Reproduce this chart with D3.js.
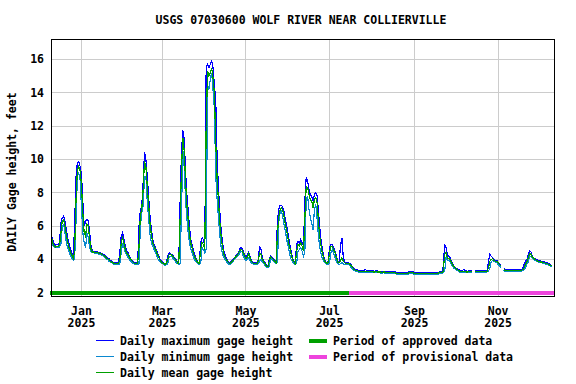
<!DOCTYPE html>
<html>
<head>
<meta charset="utf-8">
<script src="https://cdn.jsdelivr.net/npm/d3@7"></script>
<style>
  body { margin: 0; background: #ffffff; }
  svg text { font-family: "DejaVu Sans Mono", monospace; font-weight: bold; font-size: 11.5px; fill: #000; }
</style>
</head>
<body>
<div id="chart"></div>
<script>
// Gage height data, one value per day starting 2024-12-10 (null = missing day)
//---------------------------------------------------------------------------
var startDate = "2024-12-10";
var domainStart = "2024-12-10";
var domainEnd = "2025-12-12";
var provisionalStart = "2025-07-16";

var dailyMax = [
  5.5, 5.2, 4.95, 4.85, 4.9, 4.9, 5.0, 6.2, 6.5, 6.6,
  6.3, 5.8, 5.3, 4.9, 4.6, 4.4, 4.2, 6.0, 8.9, 9.8,
  9.85, 9.6, 9.1, 7.5, 6.0, 6.3, 6.4, 6.3, 5.6, 4.8,
  4.5, 4.5, 4.45, 4.45, 4.45, 4.4, 4.4, 4.35, 4.3, 4.25,
  4.15, 4.1, 4.05, 3.95, 3.9, 3.85, 3.8, 3.8, 3.8, 3.8,
  4.4, 5.4, 5.6, 5.2, 4.8, 4.5, 4.4, 4.2, 4.05, 3.95,
  3.85, 3.8, 3.8, 3.8, 6.0, 7.0, 7.2, 8.6, 10.45, 10.0,
  9.0, 7.8, 6.6, 5.8, 5.2, 4.9, 4.7, 4.5, 4.3, 4.05,
  3.95, 3.85, 3.8, 3.75, 3.8, 4.2, 4.4, 4.35, 4.3, 4.2,
  4.1, 4.0, 3.85, 3.8, 7.5, 10.5, 11.75, 11.2, 9.2, 7.8,
  6.8, 5.8, 5.1, 4.8, 4.45, 4.2, 3.95, 3.85, 3.8, 5.0,
  5.3, 5.2, 4.8, 15.5, 15.7, 15.5, 15.7, 15.9, 15.5, 14.5,
  13.5, 10.0, 8.2, 6.8, 5.7, 5.0, 4.5, 4.2, 4.0, 3.9,
  3.8, 3.85, 3.95, 4.05, 4.15, 4.25, 4.35, 4.5, 4.7, 4.7,
  4.5, 4.3, 4.1, 4.3, 4.45, 4.2, 3.95, 3.85, 3.8, 3.8,
  3.8, 4.0, 4.8, 4.6, 4.1, 3.9, 3.8, 3.65, 3.6, 4.0,
  4.2, 4.15, 4.05, 3.95, 3.85, 6.4, 7.0, 7.25, 7.25, 7.1,
  6.8, 6.3, 5.9, 5.4, 4.9, 4.5, 4.1, 3.9, 3.8, 4.9,
  5.1, 5.0, 5.2, 5.0, 4.8, 7.5, 8.95, 8.7, 8.2, 7.9,
  7.8, 7.5, 7.9, 8.0, 7.8, 6.8, 5.8, 5.0, 4.5, 4.1,
  3.9, 3.8, 3.9, 4.7, 4.9, 4.9, 4.7, 4.5, 4.2, 3.9,
  3.85, 4.8, 5.3, 4.2, 3.85, 3.8, 3.8, 3.8, 3.75, 3.65,
  3.55, 3.45, 3.4, 3.4, 3.35, 3.35, 3.35, 3.35, 3.3, 3.4,
  3.35, 3.3, 3.35, 3.35, 3.35, 3.3, 3.3, 3.35, 3.3, 3.3,
  3.3, 3.25, 3.3, 3.3, 3.25, 3.25, 3.25, 3.25, 3.25, 3.25,
  3.25, 3.25, 3.2, 3.2, 3.2, 3.2, 3.2, 3.2, 3.2, 3.2,
  3.2, 3.3, 3.25, 3.25, 3.25, 3.2, 3.2, 3.2, 3.2, 3.2,
  3.2, 3.2, 3.2, 3.2, 3.2, 3.2, 3.2, 3.2, 3.2, 3.2,
  3.2, 3.2, 3.2, 3.25, 3.25, 3.25, 3.6, 4.9, 4.7, 4.3,
  4.2, 4.1, 3.9, 3.7, 3.6, 3.5, 3.45, 3.4, 3.35, 3.35,
  3.35, 3.4, 3.35, 3.3, 3.3, 3.35, 3.35, 3.35, null, 3.35,
  3.35, 3.35, 3.35, 3.35, 3.35, 3.35, 3.35, 3.35, 3.35, 3.9,
  4.3, 4.2, 4.1, 4.0, 3.95, 3.95, 3.85, 3.75, 3.65, null,
  3.45, 3.4, 3.4, 3.4, 3.4, 3.4, 3.4, 3.4, 3.4, 3.4,
  3.4, 3.4, 3.4, 3.4, 3.45, 3.7, 3.9, 4.0, 4.3, 4.5,
  4.45, 4.2, 4.1, 4.05, 4.0, 3.95, 3.95, 3.9, 3.9, 3.85,
  3.85, 3.8, 3.8, 3.75, 3.7, 3.65
];

var dailyMin = [
  5.2, 4.85, 4.75, 4.7, 4.75, 4.75, 4.75, 4.9, 6.0, 6.1,
  5.6, 5.0, 4.7, 4.45, 4.25, 4.05, 3.95, 4.0, 6.2, 9.0,
  9.2, 8.8, 7.2, 5.6, 5.0, 4.7, 5.6, 5.3, 4.7, 4.45,
  4.4, 4.4, 4.35, 4.35, 4.35, 4.3, 4.3, 4.25, 4.2, 4.1,
  4.05, 4.0, 3.9, 3.85, 3.8, 3.75, 3.7, 3.7, 3.7, 3.7,
  3.75, 4.4, 5.0, 4.7, 4.4, 4.3, 4.1, 4.0, 3.9, 3.8,
  3.75, 3.7, 3.7, 3.7, 3.75, 6.0, 6.8, 7.2, 9.0, 9.0,
  7.5, 6.5, 5.5, 5.0, 4.8, 4.6, 4.4, 4.2, 4.0, 3.9,
  3.8, 3.75, 3.7, 3.65, 3.7, 3.75, 4.2, 4.2, 4.15, 4.05,
  3.95, 3.8, 3.75, 3.7, 3.75, 7.0, 10.5, 9.5, 7.5, 6.4,
  5.5, 4.9, 4.6, 4.3, 4.1, 3.9, 3.8, 3.75, 3.7, 3.75,
  4.7, 4.6, 4.4, 4.6, 14.5, 14.2, 14.8, 15.2, 14.2, 13.0,
  9.0, 7.6, 6.5, 5.4, 4.7, 4.3, 4.1, 3.95, 3.85, 3.75,
  3.7, 3.75, 3.8, 3.95, 4.05, 4.15, 4.2, 4.3, 4.5, 4.5,
  4.2, 4.05, 3.95, 4.0, 4.1, 3.9, 3.8, 3.75, 3.7, 3.7,
  3.7, 3.75, 3.9, 4.0, 3.85, 3.75, 3.6, 3.55, 3.5, 3.55,
  4.05, 4.0, 3.9, 3.8, 3.75, 3.8, 6.3, 6.8, 6.9, 6.5,
  6.0, 5.6, 5.1, 4.7, 4.3, 4.0, 3.85, 3.75, 3.7, 3.75,
  4.5, 4.6, 4.7, 4.5, 4.2, 4.5, 7.6, 7.8, 7.0, 6.5,
  6.2, 5.8, 7.0, 7.3, 6.4, 5.3, 4.7, 4.3, 4.0, 3.85,
  3.75, 3.7, 3.7, 3.8, 4.4, 4.6, 4.4, 4.1, 3.85, 3.75,
  3.7, 3.75, 3.8, 3.75, 3.7, 3.7, 3.7, 3.7, 3.6, 3.5,
  3.4, 3.35, 3.3, 3.3, 3.25, 3.25, 3.25, 3.25, 3.2, 3.25,
  3.25, 3.2, 3.25, 3.25, 3.25, 3.2, 3.2, 3.25, 3.2, 3.2,
  3.2, 3.15, 3.2, 3.2, 3.15, 3.15, 3.15, 3.15, 3.15, 3.15,
  3.15, 3.15, 3.1, 3.1, 3.1, 3.1, 3.1, 3.1, 3.1, 3.1,
  3.1, 3.15, 3.15, 3.15, 3.15, 3.1, 3.1, 3.1, 3.1, 3.1,
  3.1, 3.1, 3.1, 3.1, 3.1, 3.1, 3.1, 3.1, 3.1, 3.1,
  3.1, 3.1, 3.1, 3.15, 3.15, 3.15, 3.2, 3.3, 4.1, 3.95,
  3.95, 3.85, 3.65, 3.55, 3.45, 3.4, 3.35, 3.3, 3.25, 3.25,
  3.25, 3.25, 3.25, 3.2, 3.2, 3.25, 3.25, 3.25, null, 3.25,
  3.25, 3.25, 3.25, 3.25, 3.25, 3.25, 3.25, 3.25, 3.25, 3.3,
  3.5, 3.85, 3.95, 3.9, 3.85, 3.85, 3.7, 3.6, 3.5, null,
  3.35, 3.3, 3.3, 3.3, 3.3, 3.3, 3.3, 3.3, 3.3, 3.3,
  3.3, 3.3, 3.3, 3.3, 3.35, 3.4, 3.5, 3.75, 3.85, 4.2,
  4.2, 4.05, 4.0, 3.95, 3.9, 3.85, 3.85, 3.8, 3.8, 3.75,
  3.75, 3.7, 3.7, 3.65, 3.6, 3.55
];

var dailyMean = [
  5.4, 5.0, 4.85, 4.75, 4.8, 4.8, 4.85, 5.6, 6.3, 6.4,
  6.0, 5.5, 5.0, 4.7, 4.45, 4.25, 4.05, 4.5, 7.5, 9.3,
  9.6, 9.3, 8.5, 6.8, 5.6, 5.4, 6.1, 6.0, 5.2, 4.6,
  4.45, 4.45, 4.4, 4.4, 4.4, 4.35, 4.35, 4.3, 4.25, 4.2,
  4.1, 4.05, 4.0, 3.9, 3.85, 3.8, 3.75, 3.75, 3.75, 3.75,
  4.0, 5.0, 5.3, 5.0, 4.6, 4.4, 4.3, 4.1, 4.0, 3.9,
  3.8, 3.75, 3.75, 3.75, 4.8, 6.7, 7.0, 8.2, 9.9, 9.6,
  8.4, 7.3, 6.2, 5.5, 5.0, 4.8, 4.6, 4.4, 4.2, 4.0,
  3.9, 3.8, 3.75, 3.7, 3.75, 4.0, 4.3, 4.3, 4.25, 4.15,
  4.05, 3.95, 3.8, 3.75, 6.5, 9.5, 11.3, 10.5, 8.6, 7.2,
  6.3, 5.4, 4.9, 4.6, 4.3, 4.1, 3.9, 3.8, 3.75, 4.6,
  5.0, 4.9, 4.6, 12.0, 15.3, 15.0, 15.2, 15.5, 14.9, 14.0,
  11.0, 8.8, 7.5, 6.2, 5.3, 4.7, 4.3, 4.1, 3.95, 3.85,
  3.75, 3.8, 3.9, 4.0, 4.1, 4.2, 4.3, 4.45, 4.6, 4.6,
  4.4, 4.2, 4.05, 4.15, 4.35, 4.1, 3.9, 3.8, 3.75, 3.75,
  3.75, 3.9, 4.4, 4.3, 4.0, 3.85, 3.75, 3.6, 3.55, 3.9,
  4.15, 4.1, 4.0, 3.9, 3.8, 5.5, 6.6, 7.0, 7.1, 6.9,
  6.5, 6.0, 5.6, 5.1, 4.7, 4.3, 4.0, 3.85, 3.75, 4.5,
  4.9, 4.8, 5.0, 4.8, 4.5, 6.5, 8.4, 8.3, 7.9, 7.6,
  7.5, 7.1, 7.6, 7.7, 7.4, 6.2, 5.3, 4.7, 4.3, 4.0,
  3.85, 3.75, 3.8, 4.4, 4.8, 4.8, 4.6, 4.4, 4.1, 3.85,
  3.8, 3.9, 4.1, 3.9, 3.8, 3.75, 3.75, 3.75, 3.7, 3.6,
  3.5, 3.4, 3.35, 3.35, 3.3, 3.3, 3.3, 3.3, 3.25, 3.3,
  3.3, 3.25, 3.3, 3.3, 3.3, 3.25, 3.25, 3.3, 3.25, 3.25,
  3.25, 3.2, 3.25, 3.25, 3.2, 3.2, 3.2, 3.2, 3.2, 3.2,
  3.2, 3.2, 3.15, 3.15, 3.15, 3.15, 3.15, 3.15, 3.15, 3.15,
  3.15, 3.2, 3.2, 3.2, 3.2, 3.15, 3.15, 3.15, 3.15, 3.15,
  3.15, 3.15, 3.15, 3.15, 3.15, 3.15, 3.15, 3.15, 3.15, 3.15,
  3.15, 3.15, 3.15, 3.2, 3.2, 3.2, 3.3, 4.3, 4.4, 4.1,
  4.05, 4.0, 3.8, 3.65, 3.55, 3.45, 3.4, 3.35, 3.3, 3.3,
  3.3, 3.3, 3.3, 3.25, 3.25, 3.3, 3.3, 3.3, null, 3.3,
  3.3, 3.3, 3.3, 3.3, 3.3, 3.3, 3.3, 3.3, 3.3, 3.5,
  3.9, 4.0, 4.05, 3.95, 3.9, 3.9, 3.8, 3.7, 3.6, null,
  3.4, 3.35, 3.35, 3.35, 3.35, 3.35, 3.35, 3.35, 3.35, 3.35,
  3.35, 3.35, 3.35, 3.35, 3.4, 3.5, 3.7, 3.85, 4.1, 4.35,
  4.3, 4.15, 4.05, 4.0, 3.95, 3.9, 3.9, 3.85, 3.85, 3.8,
  3.8, 3.75, 3.75, 3.7, 3.65, 3.6
];

var yTicks = [2, 4, 6, 8, 10, 12, 14, 16];
var xTickDates = ["2025-01-01", "2025-03-01", "2025-05-01", "2025-07-01", "2025-09-01", "2025-11-01"];

var chartTitle = "USGS 07030600 WOLF RIVER NEAR COLLIERVILLE";
var yTitle = "DAILY Gage height, feet";

// Drawing
//---------------------------------------------------------------------------
var width = 576, height = 384;
// note: "top" is a read-only window property, so use plot* names
var plotLeft = 51.5, plotRight = 554.5, plotTop = 39.5, plotBottom = 296.5;

var parse = d3.utcParse("%Y-%m-%d");
var t0 = parse(startDate);

var svg = d3.select("#chart").append("svg")
  .attr("width", width)
  .attr("height", height);

var x = d3.scaleUtc()
  .domain([parse(domainStart), parse(domainEnd)])
  .range([51.3, 554.3]);

var y = d3.scaleLinear()
  .domain([1.79, 17.21])
  .range([296.3, 39.3]);

function snap(v) { return Math.round(v - 0.5) + 0.5; }

function toPoints(arr) {
  return arr.map(function(v, i) {
    return { date: d3.utcDay.offset(t0, i), value: v };
  });
}

// grid
var grid = svg.append("g").attr("shape-rendering", "crispEdges");
grid.selectAll("line.h")
  .data(yTicks.filter(function(d) { return d > 2; })).enter()
  .append("line")
  .attr("x1", plotLeft).attr("x2", plotRight)
  .attr("y1", function(d) { return snap(y(d)); })
  .attr("y2", function(d) { return snap(y(d)); })
  .attr("stroke", "#cccccc");
grid.selectAll("line.v")
  .data(xTickDates).enter()
  .append("line")
  .attr("y1", plotTop).attr("y2", plotBottom)
  .attr("x1", function(d) { return snap(x(parse(d))); })
  .attr("x2", function(d) { return snap(x(parse(d))); })
  .attr("stroke", "#cccccc");

// series lines
var line = d3.line()
  .defined(function(d) { return d.value != null; })
  .x(function(d) { return x(d.date); })
  .y(function(d) { return y(d.value); });

var series = [
  { name: "Daily maximum gage height", data: dailyMax, color: "#0000ff" },
  { name: "Daily minimum gage height", data: dailyMin, color: "#0a88d0" },
  { name: "Daily mean gage height", data: dailyMean, color: "#00a000" }
];

series.forEach(function(s) {
  svg.append("path")
    .datum(toPoints(s.data))
    .attr("d", line)
    .attr("fill", "none")
    .attr("stroke", s.color)
    .attr("stroke-width", 1.2)
    .attr("shape-rendering", "crispEdges");
});

// approval period bars
var periods = [
  { name: "Period of approved data", from: domainStart, to: provisionalStart, color: "#00a000" },
  { name: "Period of provisional data", from: provisionalStart, to: domainEnd, color: "#ee44dd" }
];
svg.selectAll("line.period")
  .data(periods).enter()
  .append("line")
  .attr("x1", function(d) { return x(parse(d.from)) - 1; })
  .attr("x2", function(d) { return x(parse(d.to)); })
  .attr("y1", 293).attr("y2", 293)
  .attr("stroke", function(d) { return d.color; })
  .attr("stroke-width", 4)
  .attr("shape-rendering", "crispEdges");

// frame
svg.append("rect")
  .attr("x", plotLeft).attr("y", plotTop)
  .attr("width", plotRight - plotLeft).attr("height", plotBottom - plotTop)
  .attr("fill", "none")
  .attr("stroke", "#000")
  .attr("shape-rendering", "crispEdges");

// y tick labels
svg.selectAll("text.ytick")
  .data(yTicks).enter()
  .append("text")
  .attr("x", 44)
  .attr("y", function(d) { return y(d) + 4; })
  .attr("text-anchor", "end")
  .text(function(d) { return d; });

// x tick labels (month + year)
var fmtMonth = d3.utcFormat("%b"), fmtYear = d3.utcFormat("%Y");
var xl = svg.selectAll("g.xtick")
  .data(xTickDates).enter()
  .append("g")
  .attr("transform", function(d) { return "translate(" + x(parse(d)) + ",0)"; });
xl.append("text").attr("y", 314.5).attr("text-anchor", "middle")
  .text(function(d) { return fmtMonth(parse(d)); });
xl.append("text").attr("y", 327).attr("text-anchor", "middle")
  .text(function(d) { return fmtYear(parse(d)); });

// titles
svg.append("text")
  .attr("x", 301).attr("y", 24)
  .attr("text-anchor", "middle")
  .text(chartTitle);

svg.append("text")
  .attr("transform", "translate(16,172) rotate(-90)")
  .attr("text-anchor", "middle")
  .text(yTitle);

// legend
var legend = svg.append("g");
series.forEach(function(s, i) {
  var ly = 340.5 + i * 16;
  legend.append("line")
    .attr("x1", 96).attr("x2", 114).attr("y1", ly).attr("y2", ly)
    .attr("stroke", s.color).attr("shape-rendering", "crispEdges");
  legend.append("text").attr("x", 120).attr("y", ly + 4).text(s.name);
});
periods.forEach(function(p, i) {
  var ly = 340.5 + i * 16;
  legend.append("line")
    .attr("x1", 309).attr("x2", 327).attr("y1", ly).attr("y2", ly)
    .attr("stroke", p.color).attr("stroke-width", 4).attr("shape-rendering", "crispEdges");
  legend.append("text").attr("x", 333).attr("y", ly + 4).text(p.name);
});
</script>
</body>
</html>
